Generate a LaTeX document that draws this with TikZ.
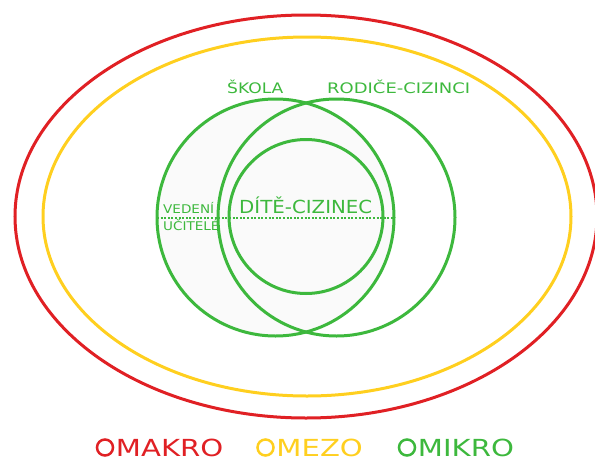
\documentclass[tikz,border=0pt]{standalone}
\usepackage{fontspec}
\usepackage{graphicx}
\setmainfont{DejaVu Sans}
\usetikzlibrary{positioning}
\definecolor{makrocol}{HTML}{E02024}
\definecolor{mezocol}{HTML}{FFCF1F}
\definecolor{mikrocol}{HTML}{3DB83D}
\newcommand{\wide}[2]{\scalebox{#1}[1]{#2}}
\tikzset{
  ring/.style={line width=3pt},
  txt/.style={text=mikrocol, inner sep=0pt, anchor=base west},
  legdot/.style={circle, draw, line width=2.5pt, minimum size=16pt, inner sep=0pt},
  legtxt/.style={inner sep=0pt, font=\fontsize{23.5}{25}\selectfont},
}

\begin{document}
\begin{tikzpicture}[x=1pt,y=-1pt]
\useasboundingbox (0,0) rectangle (595,461);
% levels
\draw[ring, makrocol] (306,216.5) ellipse [x radius=291, y radius=201.5];
\draw[ring, mezocol] (307,216.5) ellipse [x radius=264, y radius=179.5];
\fill[black!2] (275.5,217.5) circle [radius=118.5];
\draw[ring, mikrocol] (275.5,217.5) circle [radius=118.5];
\draw[ring, mikrocol] (336.5,217.5) circle [radius=118.5];
\draw[ring, mikrocol] (306,216.5) circle [radius=77];
\draw[mikrocol, line width=2pt, dash pattern=on 2pt off 1.6pt] (157,217.5) -- (394,217.5);

% labels
\node[txt, font=\fontsize{14.5}{16}\selectfont] (skola) at (227,93) {\wide{1.18}{ŠKOLA}};
\node[txt, font=\fontsize{14.5}{16}\selectfont] (rodice) at (327,93) {\wide{1.24}{RODIČE-CIZINCI}};
\node[txt, font=\fontsize{18}{20}\selectfont] (dite) at (239,213) {\wide{1.1}{DÍTĚ-CIZINEC}};
\node[txt, font=\fontsize{12}{14}\selectfont] (vedeni) at (163,213) {\wide{1.13}{VEDENÍ}};
\node[txt, font=\fontsize{12}{14}\selectfont] (ucitele) at (163,230) {\wide{1.13}{UČITELÉ}};

% legend
\node[legdot, makrocol] (makrodot) at (105,447.5) {};
\node[legtxt, makrocol, right=1.5pt of makrodot] (makro) {\wide{1.24}{MAKRO}};
\node[legdot, mezocol] (mezodot) at (265.5,447.5) {};
\node[legtxt, mezocol, right=1.5pt of mezodot] (mezo) {\wide{1.24}{MEZO}};
\node[legdot, mikrocol] (mikrodot) at (407,447.5) {};
\node[legtxt, mikrocol, right=1.5pt of mikrodot] (mikro) {\wide{1.24}{MIKRO}};
\end{tikzpicture}
\end{document}
